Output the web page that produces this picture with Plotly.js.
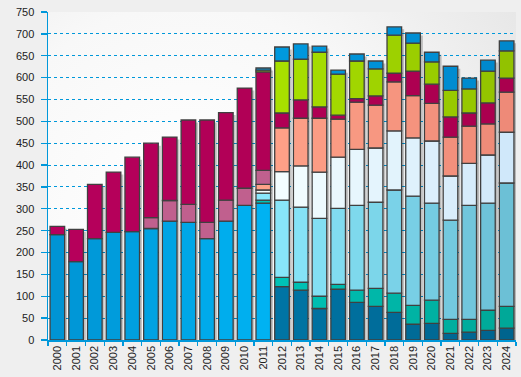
<!DOCTYPE html>
<html>
<head>
<meta charset="utf-8">
<script src="https://cdn.plot.ly/plotly-3.0.1.min.js"></script>
<style>html,body{margin:0;padding:0;background:#efefef;}#chart{width:521px;height:377px;}</style>
</head>
<body>
<div id="chart"></div>
<script>
const years = ["2000","2001","2002","2003","2004","2005","2006","2007","2008","2009","2010","2011","2012","2013","2014","2015","2016","2017","2018","2019","2020","2021","2022","2023","2024"];
const yTicks = [0,50,100,150,200,250,300,350,400,450,500,550,600,650,700,750];
const N = null;
// stacked series, bottom to top
const seriesBase    = [241,179,232,246,248,255,272,269,232,272,308,313,N,N,N,N,N,N,N,N,N,N,N,N,N];
const seriesDark    = [N,N,N,N,N,N,N,N,N,N,N,N,122,114,72,116,86,77,63,36,38,15,18,22,27];
const seriesTeal    = [N,N,N,N,N,N,N,N,N,N,N,7,21,18,28,11,28,41,44,43,53,32,29,46,50];
const seriesCyan    = [N,N,N,N,N,N,N,N,N,N,N,16,177,172,178,174,194,197,236,250,222,227,261,245,282];
const seriesWhite   = [N,N,N,N,N,N,N,N,N,N,N,7,65,94,106,117,128,124,135,133,142,101,96,110,116];
const seriesSalmon  = [N,N,N,N,N,N,N,N,N,N,N,13,100,109,123,87,108,98,112,97,86,89,85,71,92];
const seriesMauve   = [N,N,N,N,N,25,47,41,37,48,39,32,N,N,N,N,N,N,N,N,N,N,N,N,N];
const seriesMagenta = [19,74,124,138,170,170,145,193,234,200,229,225,34,42,26,9,8,21,20,56,44,46,30,48,32];
const seriesGreen   = [N,N,N,N,N,N,N,N,N,N,N,4,119,93,125,94,86,62,87,64,51,61,55,73,62];
const seriesTop     = [N,N,N,N,N,N,N,N,N,N,N,5,32,35,14,9,16,18,19,23,22,55,25,25,23];

const series = [
  {y: seriesBase,    c0:'#0094d4', c1:'#00b2f2'},
  {y: seriesDark,    c0:'#0074a4', c1:'#00648e'},
  {y: seriesTeal,    c0:'#00c4b8', c1:'#00a898'},
  {y: seriesCyan,    c0:'#8ae8fc', c1:'#6cc0d6'},
  {y: seriesWhite,   c0:'#f6ffff', c1:'#d0e8fa'},
  {y: seriesSalmon,  c0:'#ffa288', c1:'#ee8a78'},
  {y: seriesMauve,   c0:'#c0608e', c1:'#c0608e'},
  {y: seriesMagenta, c0:'#b6005c', c1:'#aa004e'},
  {y: seriesGreen,   c0:'#aae200', c1:'#92c200'},
  {y: seriesTop,     c0:'#009ae0', c1:'#0088cc'}
];

function hex2rgb(h){return [parseInt(h.substr(1,2),16),parseInt(h.substr(3,2),16),parseInt(h.substr(5,2),16)];}
function lerpColor(a,b,t){const A=hex2rgb(a),B=hex2rgb(b);return 'rgb('+A.map((v,i)=>Math.round(v+(B[i]-v)*t)).join(',')+')';}
function colorsFor(s){
  const idx = s.y.map((v,i)=>v==null?null:i).filter(v=>v!=null);
  const lo = Math.min(...idx), hi = Math.max(...idx);
  return s.y.map((v,i)=> lerpColor(s.c0, s.c1, hi===lo?0:(i-lo)/(hi-lo)));
}

const BW = 0.78;
const shiftX = 2.5/18.72, shiftY = 2.5*750/328;

// cumulative stacking (built from the series arrays)
const cum = years.map(()=>0);
const barTraces = series.map(s=>{
  const base = cum.slice();
  s.y.forEach((v,i)=>{ if(v!=null) cum[i]+=v; });
  return {
    type:'bar', x:years, y:s.y, base:base, width:BW,
    marker:{color:colorsFor(s), line:{color:'#404040', width:1.3}}
  };
});
const totals = cum.slice();
const shadow = {
  type:'bar', x:years, y:totals, base:years.map(()=>-shiftY), width:BW, offset:-BW/2+shiftX,
  marker:{color:'rgba(0,0,0,0.22)', line:{width:0}}, hoverinfo:'skip'
};
const traces = [shadow].concat(barTraces);

// background gradient image
const cw=468, ch=328;
const cv=document.createElement('canvas'); cv.width=cw; cv.height=ch;
const ctx=cv.getContext('2d');
const g=ctx.createRadialGradient(cw*0.3,ch*0.6,10,cw*0.3,ch*0.6,cw*0.85);
g.addColorStop(0,'#ffffff'); g.addColorStop(0.5,'#f8f8f8'); g.addColorStop(1,'#e6e6e6');
ctx.fillStyle=g; ctx.fillRect(0,0,cw,ch);
const bgImg = cv.toDataURL();

const fontFam = 'Liberation Sans, Arial, sans-serif';
const layout = {
  width:521, height:377,
  margin:{l:48, r:5, t:12, b:37, pad:0},
  paper_bgcolor:'#efefef', plot_bgcolor:'rgba(0,0,0,0)',
  barmode:'overlay', showlegend:false,
  font:{family:fontFam, size:11, color:'#222'},
  images:[{source:bgImg, xref:'paper', yref:'paper', x:0, y:1, sizex:1, sizey:1, sizing:'stretch', layer:'below', xanchor:'left', yanchor:'top'}],
  xaxis:{type:'category', range:[-0.5,24.5], tickson:'boundaries', ticks:'outside', ticklen:4, tickwidth:1.3, tickcolor:'#0098da',
    showline:true, linecolor:'#0098da', linewidth:1.5, showgrid:false, tickangle:-90, tickfont:{size:11, color:'#222'}, fixedrange:true},
  yaxis:{range:[0,750], tickvals:yTicks, ticks:'outside', ticklen:6, tickwidth:1.3, tickcolor:'#0098da',
    showline:true, linecolor:'#0098da', linewidth:1.5, showgrid:true, gridcolor:'#0098da', griddash:'3px,3px', gridwidth:1,
    zeroline:false, tickfont:{size:11, color:'#222'}, ticklabelstandoff:4, fixedrange:true}
};
Plotly.newPlot('chart', traces, layout, {displayModeBar:false, staticPlot:true});
</script>
</body>
</html>
